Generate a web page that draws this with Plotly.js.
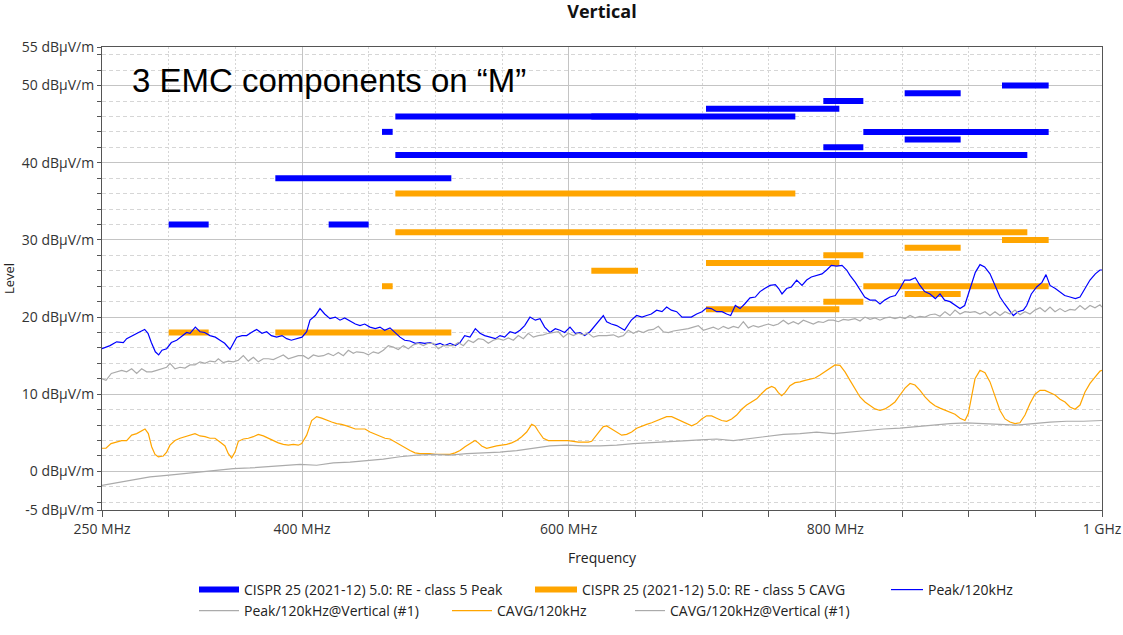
<!DOCTYPE html>
<html>
<head>
<meta charset="utf-8">
<script src="https://cdn.plot.ly/plotly-3.0.1.min.js"></script>
<style>html,body{margin:0;padding:0;background:#fff;}#chart{width:1123px;height:635px;}</style>
</head>
<body>
<div id="chart"></div>
<script>
// ---- Limit lines (CISPR 25 class 5) ----
const peakLimStart = [300, 420, 380, 460, 470, 470, 617, 703, 791, 791, 821, 852, 852, 925];
const peakLimEnd   = [330, 450, 512, 468, 770, 944, 652, 803, 821, 821, 960, 894, 894, 960];
const peakLimLevel = [32, 32, 38, 44, 46, 41, 46, 47, 48, 42, 44, 49, 43, 50];

const avgLimStart = [300, 380, 460, 470, 470, 617, 703, 703, 791, 791, 821, 852, 852, 925];
const avgLimEnd   = [330, 512, 468, 770, 944, 652, 803, 803, 821, 821, 960, 894, 894, 960];
const avgLimLevel = [18, 18, 24, 36, 31, 26, 27, 21, 28, 22, 24, 29, 23, 30];

// ---- Peak/120kHz ----
const peakFreq = [250,256,261,266,268.5,273.5,276,278.5,282,284.5,287,290,292.5,295,298.5,302,306,310,313.5,316,320,323.5,327,331,335,338.5,342,346,348.5,351,355,358.5,362,366,370,373.5,377,381,385,388.5,392,396,400,403.5,406,410,413.5,417,421,425,428.5,432,436,440,443.5,447,451,455,458.5,462,466,470,473.5,477,481,485,488.5,492,496,500,503.5,507,511,515,518.5,522,526,530,533.5,537,541,545,548.5,552,556,560,563.5,567,571,575,578.5,582,586,590,593.5,597,601,605,608.5,612,616,620,623.5,626,628.5,632,636,640,642,645,647,651,655,658.5,662,666,670,673.5,677,681,685,688.5,692,696,700,703.5,707,711,715,718.5,721.5,725,728.5,732,736,740,743.5,747,751,755,757.5,760,763.5,767,771,775,778.5,782,786,790,793.5,797,801,805,808.5,811,815,818.5,822,826,830,833.5,837,841,845,848.5,852,856,860,863.5,867,871,875,878.5,882,886,890,893.5,897,901,905,908.5,912,916,920,923.5,927,931,933.5,937,941,943.5,947,951,955,958,961,965,968.5,972,976,980,983.5,987,991,995,998.5,1000];
const peakVal  = [15.9,16.3,16.8,16.7,17.2,17.6,17.9,18.1,18.4,17.9,16.7,15.5,15.1,15.7,15.9,16.7,17.0,17.6,18.0,17.9,18.7,18.1,18.0,17.6,17.4,17.0,16.6,15.8,16.6,17.4,17.6,17.6,18.0,18.4,17.9,18.1,17.6,17.4,17.6,17.2,17.0,17.2,17.4,18.1,19.6,20.2,21.1,20.4,19.8,20.0,19.6,19.9,19.5,19.1,18.9,19.1,18.7,18.5,18.7,18.3,18.6,17.9,17.4,17.0,16.9,16.6,16.7,16.6,16.7,16.4,16.6,16.3,16.6,16.3,16.7,17.6,17.4,18.5,17.9,17.6,17.4,17.2,17.6,17.4,18.1,17.9,18.3,18.9,20.0,19.6,19.8,18.7,18.0,18.5,18.3,18.0,18.7,17.9,18.0,17.6,18.1,18.9,19.6,20.2,19.4,19.1,18.9,18.5,18.3,19.1,19.6,20.2,20.0,20.2,20.4,20.9,20.7,21.3,20.9,20.7,20.0,20.0,20.0,20.4,20.7,21.2,21.1,20.7,20.7,20.4,20.2,21.5,21.1,21.7,22.5,22.6,23.3,23.7,24.1,24.2,23.7,23.0,23.7,23.9,24.8,24.1,24.8,25.2,25.4,25.6,26.1,26.7,26.6,26.7,26.1,25.4,24.5,23.5,22.6,22.2,22.2,21.7,22.2,22.6,22.8,23.7,24.8,24.8,25.1,24.1,23.3,23.0,22.4,23.0,22.2,22.0,21.5,21.1,21.5,23.7,25.8,26.8,26.5,25.6,24.1,22.6,21.7,20.7,20.2,20.7,20.9,21.5,23.0,23.9,24.5,25.5,24.1,23.7,23.3,22.8,22.6,22.4,22.6,23.7,24.8,25.6,26.1,26.1];

// ---- Peak/120kHz@Vertical (#1) ----
const peakRefFreq = [250,253,257,261,264.75,268.5,272.25,276,279.75,283.5,287.25,291,294.75,298.5,301,304.75,308.5,312.25,316,319.75,323.5,327.25,331,334.75,337.25,341,344.75,348.5,352.25,356,359.75,363.5,367.25,371,374.75,378.5,382.25,386,389.75,393.5,397.25,401,404.75,408.5,412.25,416,419.75,423.5,427.25,431,434.75,438.5,441,446,449.75,453.5,457.25,461,464.75,468.5,472.25,476,479.75,483.5,487.25,491,494.75,498.5,502.25,506,509.75,513.5,517.25,521,524.75,528.5,532.25,536,539.75,543.5,547.25,551,554.75,558.5,562.25,566,569.75,573.5,577.25,581,584.75,588.5,592.25,596,599.75,603.5,607.25,611,614.75,618.5,622.25,626,628.5,633.5,637.25,641,644.75,648.5,652.25,656,659.75,663.5,667.25,671,674.75,678.5,682.25,686,689.75,693.5,697.25,701,704.75,708.5,712.25,716,719.75,723.5,727.25,731,734.75,738.5,742.25,746,749.75,753.5,757.25,761,764.75,768.5,772.25,776,779.75,783.5,787.25,791,794.75,798.5,802.25,806,809.75,814.75,818.5,822.25,826,829.75,833.5,837.25,841,844.75,848.5,852.25,856,859.75,863.5,867.25,871,874.75,878.5,882.25,886,889.75,893.5,897.25,901,904.75,908.5,912.25,916,919.75,923.5,927.25,931,934.75,938.5,942.25,946,949.75,953.5,957.25,961,964.75,968.5,972.25,976,979.75,983.5,987.25,991,994.75,998.5,1000];
const peakRefVal  = [12.0,11.8,12.7,12.9,13.1,12.9,13.3,12.7,13.3,12.9,12.9,13.1,13.3,13.5,14.0,13.3,13.5,13.4,13.8,13.8,14.2,14.0,14.3,14.2,14.6,14.1,14.3,14.2,14.4,15.0,14.3,14.8,14.2,14.6,14.6,14.5,14.8,15.1,14.6,14.8,15.0,15.0,14.6,15.1,14.9,15.0,15.3,15.0,15.4,15.0,15.7,15.3,15.5,15.4,15.1,15.5,15.3,15.7,16.3,16.1,15.8,16.3,15.9,16.4,16.6,16.3,16.6,16.6,15.9,16.3,16.3,16.3,16.7,16.3,17.0,16.7,17.2,17.1,16.6,17.0,17.2,17.0,17.3,17.0,17.6,17.2,17.9,17.4,17.6,17.7,17.9,18.0,18.1,17.4,17.9,17.6,17.9,17.7,17.9,17.4,17.6,17.6,17.6,17.7,17.4,17.6,18.3,17.9,18.2,18.0,18.3,18.4,18.8,18.1,18.0,18.2,18.3,18.4,18.5,18.7,18.9,18.3,18.5,18.7,18.4,18.8,18.5,18.8,18.6,19.4,18.6,18.9,18.7,18.9,19.1,18.9,19.1,19.6,19.1,19.4,19.1,19.6,19.4,19.1,19.4,19.3,19.6,19.6,19.4,19.7,19.6,19.8,19.5,20.0,19.7,19.9,19.6,19.9,20.0,19.8,20.0,19.8,20.2,19.9,20.1,20.0,20.3,20.4,20.1,20.7,20.2,20.9,20.4,20.7,20.6,20.7,20.4,20.7,20.2,20.7,20.2,20.7,20.4,20.9,20.3,20.7,20.4,20.9,21.2,20.7,21.3,20.7,21.1,20.7,21.0,20.9,21.5,21.0,21.5,21.2,21.6,21.3];

// ---- CAVG/120kHz ----
const avgFreq = [250,253,256.75,261,264.75,268.5,272.25,276,279.75,282.25,284.75,287.25,289.75,292.25,296,298.5,301,304.75,308.5,312.25,316,319.75,323.5,327.25,331,334.75,338.5,342.25,344.75,347.25,349.75,352.25,356,359.75,363.5,367.25,371,374.75,378.5,382.25,386,389.75,393.5,397.25,399.75,403.5,407.25,411,414.75,418.5,422.25,426,429.75,433.5,437.25,440,443.5,447.25,451,454.75,458.5,462.25,466,469.75,473.5,477.25,481,484.75,488.5,492.25,496,499.75,503.5,507.25,511,514.75,518.5,522.25,526,529.75,532.25,534.75,538.5,542.25,546,549.75,553.5,557.25,561,564.75,568.5,572.25,574.75,577.25,581,584.75,588.5,592.25,596,599.75,603.5,607.25,611,614.75,617.25,619.75,623.5,626,628.5,632.25,636,639.75,643.5,647.25,651,654.75,658.5,662.25,666,669.75,673.5,677.25,681,684.75,688.5,692.25,696,699.75,703.5,707.25,711,714.75,718.5,722.25,726,729.75,733.5,737.25,741,744.75,748.5,752.25,754.75,757.25,759.75,762.25,766,769.75,773.5,777.25,781,784.75,788.5,792.25,796,799.75,803.5,807.25,811,814.75,818.5,822.25,826,829.75,833.5,837.25,841,844.75,848.5,852.25,856,859.75,863.5,867.25,871,874.75,878.5,882.25,886,889.75,893.5,897.25,899.75,902.25,904.75,908.5,912.25,916,919.75,923.5,927.25,931,934.75,938.5,942.25,946,949.75,953.5,957.25,961,964.75,968.5,972.25,976,979.75,983.5,987.25,991,994.75,998.5,1000];
const avgVal  = [3.0,3.0,3.6,3.8,4.0,4.0,4.7,4.9,5.3,5.5,4.9,3.2,2.2,1.9,2.0,2.5,3.4,4.0,4.3,4.5,4.8,4.9,4.6,4.5,4.3,4.3,3.8,3.3,2.3,1.75,2.5,3.9,4.2,4.3,4.5,4.8,4.6,4.3,3.9,3.7,3.5,3.4,3.5,3.4,3.6,4.7,6.6,7.1,6.9,6.6,6.4,6.2,6.1,5.9,5.7,5.5,5.5,5.5,5.1,4.8,4.6,4.3,4.2,3.8,3.4,3.0,2.7,2.4,2.3,2.3,2.3,2.2,2.2,2.2,2.2,2.4,2.7,3.2,3.6,4.0,3.7,3.3,3.0,3.2,3.3,3.4,3.5,3.7,4.0,4.5,5.1,6.1,5.9,5.2,4.3,4.0,4.0,4.0,4.0,4.0,3.9,3.8,3.8,3.8,3.9,4.5,5.3,5.8,5.9,5.5,5.1,4.7,4.8,5.1,5.6,5.9,6.1,6.3,6.6,6.8,7.1,7.1,6.8,6.4,6.1,5.9,6.2,6.8,7.2,7.2,6.9,6.6,6.5,6.8,7.3,8.05,8.6,9.0,9.4,10.1,10.7,11.0,10.8,10.2,9.8,10.2,11.1,11.5,11.6,11.8,12.0,12.1,12.5,12.9,13.4,13.8,13.75,12.9,11.8,10.7,9.65,9.0,8.5,8.1,7.9,8.1,8.5,9.0,9.9,10.8,11.4,11.2,10.5,9.65,9.0,8.5,8.2,7.9,7.7,7.4,6.9,6.6,7.5,9.9,12.0,13.1,12.8,11.6,9.65,7.9,6.8,6.4,6.2,6.3,7.3,8.8,10.0,10.5,10.5,10.2,9.9,9.35,9.0,8.35,8.05,8.6,10.3,11.4,12.2,13.0,13.1];

// ---- CAVG/120kHz@Vertical (#1) ----
const avgRefFreq = [250,261,273.5,286,298.5,311,323.5,336,348.5,361,373.5,386,398.5,411,423.5,436,448.5,461,473.5,486,498.5,511,523.5,536,548.5,561,573.5,586,598.5,611,623.5,636,648.5,661,673.5,686,698.5,711,723.5,736,748.5,761,773.5,786,798.5,811,823.5,836,848.5,861,873.5,886,898.5,911,923.5,936,948.5,961,973.5,986,1000];
const avgRefVal  = [-1.8,-1.45,-1.0,-0.7,-0.5,-0.3,-0.07,0.15,0.37,0.45,0.58,0.71,0.9,0.8,1.1,1.2,1.4,1.6,1.9,2.1,2.2,2.1,2.3,2.4,2.5,2.7,3.0,3.3,3.4,3.3,3.3,3.4,3.6,3.7,3.8,3.95,4.1,4.2,4.0,4.25,4.5,4.8,4.9,5.1,4.9,5.1,5.3,5.5,5.6,5.8,6.0,6.2,6.3,6.2,6.1,6.0,6.2,6.4,6.5,6.5,6.6];

// ---- Axis ticks ----
const xTickVals = [250, 400, 600, 800, 1000];
const xTickText = ["250 MHz", "400 MHz", "600 MHz", "800 MHz", "1 GHz"];
const yTickVals = [-5, 0, 10, 20, 30, 40, 50, 55];
const yTickText = ["-5 dBµV/m", "0 dBµV/m", "10 dBµV/m", "20 dBµV/m", "30 dBµV/m", "40 dBµV/m", "50 dBµV/m", "55 dBµV/m"];

const seriesNames = [
  "CISPR 25 (2021-12) 5.0: RE - class 5 Peak",
  "CISPR 25 (2021-12) 5.0: RE - class 5 CAVG",
  "Peak/120kHz",
  "Peak/120kHz@Vertical (#1)",
  "CAVG/120kHz",
  "CAVG/120kHz@Vertical (#1)"
];

function segments(starts, ends, levels) {
  const x = [], y = [];
  for (let i = 0; i < starts.length; i++) {
    x.push(starts[i], ends[i], null);
    y.push(levels[i], levels[i], null);
  }
  return {x, y};
}
const pk = segments(peakLimStart, peakLimEnd, peakLimLevel);
const av = segments(avgLimStart, avgLimEnd, avgLimLevel);

const BLUE = '#0000ff', ORANGE = '#ffa500', GRAY = '#ababab';
const traces = [
  {x: pk.x, y: pk.y, mode: 'lines', name: seriesNames[0], line: {color: BLUE, width: 6}, connectgaps: false, legend: 'legend'},
  {x: av.x, y: av.y, mode: 'lines', name: seriesNames[1], line: {color: ORANGE, width: 6}, connectgaps: false, legend: 'legend2'},
  {x: peakFreq, y: peakVal, mode: 'lines', name: seriesNames[2], line: {color: BLUE, width: 1.2}, legend: 'legend3'},
  {x: peakRefFreq, y: peakRefVal, mode: 'lines', name: seriesNames[3], line: {color: GRAY, width: 1.2}, legend: 'legend4'},
  {x: avgFreq, y: avgVal, mode: 'lines', name: seriesNames[4], line: {color: ORANGE, width: 1.2}, legend: 'legend5'},
  {x: avgRefFreq, y: avgRefVal, mode: 'lines', name: seriesNames[5], line: {color: GRAY, width: 1.2}, legend: 'legend6'}
];

const W = 1123, H = 635;
const FONT = 'Open Sans, Noto Sans, sans-serif';
function leg(px, py, iw) {
  return {xref: 'container', yref: 'container', x: px / W, y: 1 - py / H, xanchor: 'left', yanchor: 'middle',
          orientation: 'h', bgcolor: 'rgba(0,0,0,0)', itemwidth: iw,
          font: {family: FONT, size: 14, color: '#222'}};
}

const tickFont = {family: FONT, size: 14, color: '#333'};
const layout = {
  width: W, height: H,
  margin: {l: 102, r: 21, t: 47, b: 125, autoexpand: false},
  paper_bgcolor: '#fff', plot_bgcolor: '#fff',
  font: {family: FONT, size: 13, color: '#333'},
  title: {text: '<b>Vertical</b>', x: 0.536, xanchor: 'center', yref: 'container', y: 1 - 12 / H, yanchor: 'middle',
          font: {family: FONT, size: 18, color: '#111'}},
  showlegend: true,
  legend: leg(194, 590, 40), legend2: leg(530, 590, 42), legend3: leg(886, 590, 32),
  legend4: leg(194, 611, 40), legend5: leg(447, 611, 40), legend6: leg(630, 611, 30),
  xaxis: {
    range: [250, 1000], tickmode: 'array', tickvals: xTickVals, ticktext: xTickText,
    ticks: 'outside', ticklen: 6, tickcolor: '#555', tickfont: tickFont,
    showline: true, linecolor: '#555', linewidth: 1, mirror: true,
    showgrid: true, gridcolor: '#c4c4c4', gridwidth: 1, zeroline: false,
    minor: {tickmode: 'linear', tick0: 250, dtick: 50, ticks: 'outside', ticklen: 6, tickcolor: '#555',
            showgrid: true, gridcolor: '#d6d6d6', griddash: '2px,2px', gridwidth: 1},
    title: {text: 'Frequency', font: {size: 14, color: '#222'}, standoff: 16}
  },
  yaxis: {
    range: [-5, 55], tickmode: 'array', tickvals: yTickVals, ticktext: yTickText,
    ticks: 'outside', ticklen: 4, tickcolor: '#555', tickfont: tickFont,
    showline: true, linecolor: '#555', linewidth: 1, mirror: true,
    showgrid: true, gridcolor: '#c4c4c4', gridwidth: 1, zeroline: false,
    minor: {tickmode: 'linear', tick0: 0, dtick: 2, ticks: 'outside', ticklen: 4, tickcolor: '#555',
            showgrid: true, gridcolor: '#d6d6d6', griddash: '4px,3px', gridwidth: 1},
    title: {text: 'Level', font: {size: 13, color: '#222'}, standoff: 4}
  },
  annotations: [{
    xref: 'paper', yref: 'paper', x: 0.028, y: 0.928, xanchor: 'left', yanchor: 'middle',
    text: '3 EMC components on “M”', showarrow: false,
    font: {family: 'Liberation Sans, Arial, sans-serif', size: 33, color: '#000'}
  }]
};

Plotly.newPlot('chart', traces, layout, {displayModeBar: false, staticPlot: true});
</script>
</body>
</html>
